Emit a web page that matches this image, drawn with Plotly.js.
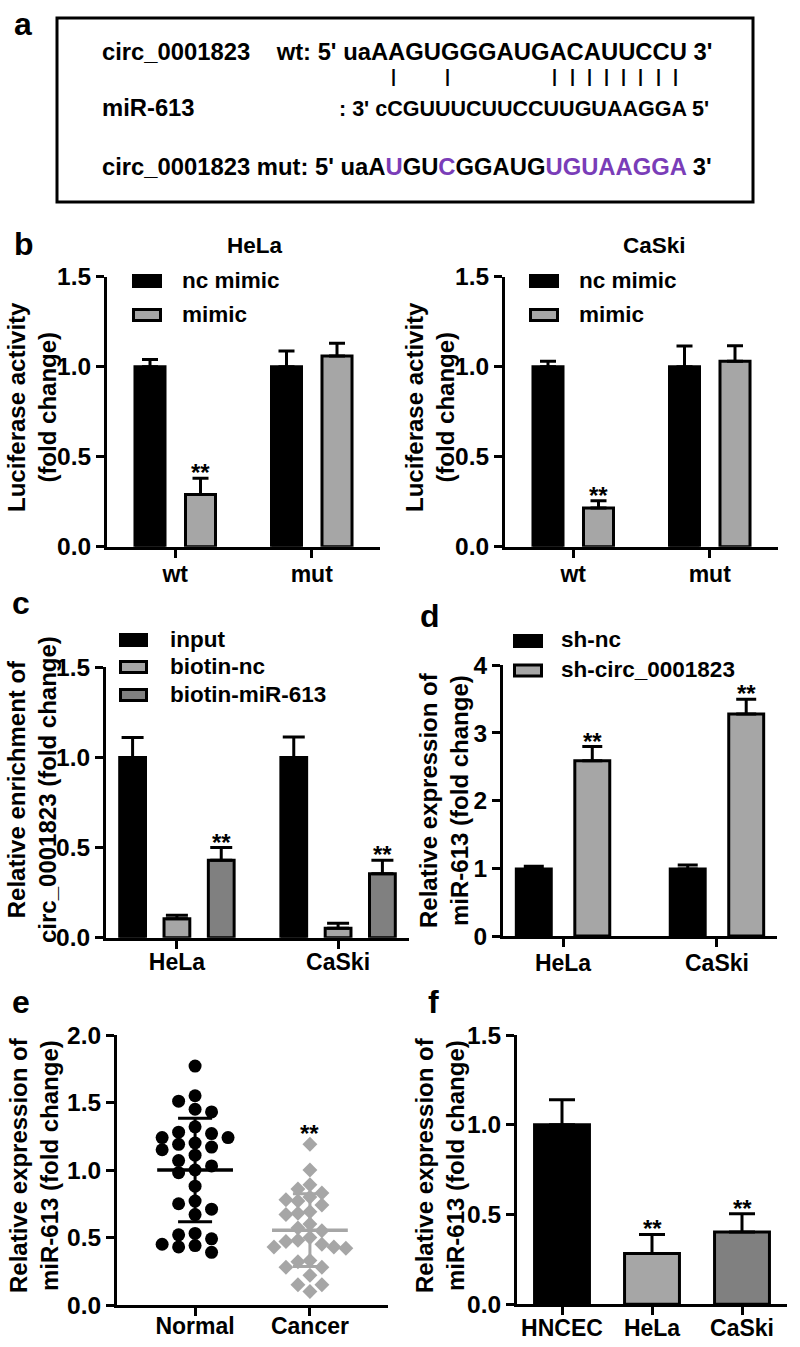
<!DOCTYPE html>
<html><head><meta charset="utf-8">
<script src="https://cdn.plot.ly/plotly-3.0.1.min.js"></script>
<style>html,body{margin:0;padding:0;background:#fff}#chart{width:800px;height:1347px}</style>
</head><body><div id="chart"></div>
<script>
// ---------------- data ----------------
// panel a
const aRowLabels = ['circ_0001823', 'miR-613', 'circ_0001823'];
const aWt  = 'uaAAGUGGGAUGACAUUCCU';
const aMiR = 'cCGUUUCUUCCUUGUAAGGA';
const aMut = 'uaAUGUCGGAUGUGUAAGGA';
// panel b
const bCategories = ['wt', 'mut'];
const bSeries = ['nc mimic', 'mimic'];
const bTitles = ['HeLa', 'CaSki'];
const bHelaNc = [1.00, 1.00];
const bHelaNcErr = [0.04, 0.087];
const bHelaMimic = [0.29, 1.06];
const bHelaMimicErr = [0.09, 0.07];
const bCaskiNc = [1.00, 1.00];
const bCaskiNcErr = [0.03, 0.115];
const bCaskiMimic = [0.215, 1.03];
const bCaskiMimicErr = [0.04, 0.087];
const bHelaSig = ['**', ''];
const bCaskiSig = ['**', ''];
// panel c
const cCategories = ['HeLa', 'CaSki'];
const cSeries = ['input', 'biotin-nc', 'biotin-miR-613'];
const cInput = [1.00, 1.00];
const cInputErr = [0.11, 0.113];
const cBiotinNc = [0.105, 0.053];
const cBiotinNcErr = [0.02, 0.027];
const cBiotinMiR = [0.43, 0.355];
const cBiotinMiRErr = [0.07, 0.075];
const cSig = ['**', '**'];
// panel d
const dCategories = ['HeLa', 'CaSki'];
const dSeries = ['sh-nc', 'sh-circ_0001823'];
const dShNc = [0.99, 0.99];
const dShNcErr = [0.04, 0.06];
const dShCirc = [2.59, 3.28];
const dShCircErr = [0.21, 0.22];
const dSig = ['**', '**'];
// panel e
const eCategories = ['Normal', 'Cancer'];
const eNormal = [1.77,1.55,1.51,1.45,1.43,1.32,1.28,1.27,1.24,1.24,1.20,1.19,1.17,1.15,1.11,1.07,1.03,1.00,0.98,0.88,0.77,0.75,0.71,0.67,0.53,0.52,0.49,0.45,0.44,0.43,0.39];
const eCancer = [1.19,1.00,0.89,0.86,0.83,0.80,0.78,0.77,0.74,0.69,0.68,0.67,0.60,0.57,0.55,0.50,0.48,0.47,0.45,0.43,0.43,0.42,0.33,0.32,0.28,0.28,0.22,0.15,0.15,0.10];
const eSig = ['', '**'];
// panel f
const fCategories = ['HNCEC', 'HeLa', 'CaSki'];
const fValues = [1.00, 0.283, 0.403];
const fErr = [0.14, 0.106, 0.102];
const fSig = ['', '**', '**'];
// y-axis titles
const titleLuc = 'Luciferase activity<br>(fold change)';
const titleEnrich = 'Relative enrichment of<br>circ_0001823 (fold change)';
const titleExpr = 'Relative expression of<br>miR-613 (fold change)';

// ---------------- helpers ----------------
const W = 800, H = 1347;
const X = p => p / W;
const Y = p => 1 - p / H;
const FONT = 'Liberation Sans, Arial, sans-serif';
const BLACK = '#000000', LIGHT = '#a6a6a6', DARK = '#808080', PURPLE = '#7a3db8';
const fnt = (size, color) => ({family: FONT, size: size, color: color || '#000', weight: 'bold'});

const ctx = document.createElement('canvas').getContext('2d');
function tw(str, size) { ctx.font = 'bold ' + size + 'px "Liberation Sans"'; return ctx.measureText(str).width; }

function txt(str, xpx, ypx, size, opts) {
  return Object.assign({text: str, x: X(xpx), y: Y(ypx), xref: 'paper', yref: 'paper', showarrow: false,
    xanchor: 'left', yanchor: 'middle', font: fnt(size)}, opts || {});
}
// baseline -> middle for yanchor middle
const mid = (base, size) => base - 0.3465 * size;

const annotations = [];
const shapes = [];
const traces = [];

// ---------------- panel a ----------------
shapes.push({type: 'rect', xref: 'paper', yref: 'paper', x0: X(57), x1: X(753), y0: Y(18), y1: Y(202),
  line: {color: BLACK, width: 3}, fillcolor: 'rgba(0,0,0,0)'});
annotations.push(txt('a', 12, mid(35, 32), 32));
const S1 = 23.8, S2 = 21.5;
const row1Prefix = aRowLabels[0] + '\u00a0\u00a0\u00a0\u00a0wt: 5\' ';
annotations.push(txt(row1Prefix + aWt + ' 3\'', 100, mid(60, S1), S1));
annotations.push(txt(aRowLabels[1], 100, mid(116, S1), S1));
const row2Text = ': 3\' ' + aMiR + ' 5\'';
annotations.push(txt(row2Text, 711, mid(116, S2), S2, {xanchor: 'right'}));
// row 3 with mutated letters coloured
let mutHtml = '';
for (let i = 0; i < aMut.length; i++) {
  const ch = aMut[i];
  mutHtml += (ch !== aWt[i]) ? '<span style="color:' + PURPLE + '">' + ch + '</span>' : ch;
}
annotations.push(txt(aRowLabels[2] + ' mut: 5\' ' + mutHtml + ' 3\'', 100, mid(175, S1), S1));
// pairing bars under Watson-Crick pairs
const pairs = {AU: 1, UA: 1, GC: 1, CG: 1};
const row1Start = 100 + 2 + tw(row1Prefix, S1);
for (let i = 0; i < aWt.length; i++) {
  const a = aWt[i], b = aMiR[i];
  if (a !== a.toUpperCase() || b !== b.toUpperCase()) continue;
  if (!pairs[a + b]) continue;
  const c1 = row1Start + tw(aWt.slice(0, i), S1) + tw(a, S1) / 2;
  annotations.push(txt('|', c1 - 3, 76, 18, {xanchor: 'center'}));
}

// ---------------- axes ----------------
const axBase = {showline: true, linecolor: BLACK, linewidth: 3, ticks: 'outside', ticklen: 8, tickwidth: 3,
  tickcolor: BLACK, showgrid: false, zeroline: false, fixedrange: true, tickfont: fnt(23)};
function xax(dom, cats, range, anchor, standoff) {
  return Object.assign({}, axBase, {domain: [X(dom[0]), X(dom[1])], range: range, tickmode: 'array',
    tickvals: cats.map((_, i) => i), ticktext: cats, anchor: anchor, ticklabelstandoff: standoff});
}
function yax(dom, range, dtick, fmt, anchor) {
  return Object.assign({}, axBase, {domain: [Y(dom[1]), Y(dom[0])], range: range, tickmode: 'linear',
    tick0: 0, dtick: dtick, tickformat: fmt, anchor: anchor, tickfont: fnt(24.5)});
}

function bars(xa, ya, vals, errs, center, width, color, capw) {
  return {type: 'bar', xaxis: xa, yaxis: ya, x: vals.map((_, i) => i + center), y: vals, width: width,
    marker: {color: color, line: {color: BLACK, width: 3}},
    error_y: {type: 'data', symmetric: false, array: errs, arrayminus: errs.map(() => 0), color: BLACK, thickness: 3, width: capw},
    hoverinfo: 'skip', showlegend: false};
}
function stars(xa, ya, vals, errs, center, sig) {
  sig.forEach((s, i) => {
    if (!s) return;
    annotations.push({text: s, xref: xa, yref: ya, x: i + center, y: vals[i] + errs[i], showarrow: false,
      xanchor: 'center', yanchor: 'bottom', yshift: -10, font: fnt(24)});
  });
}
function legendBox(names, colors, boxX, textX, rowsY, w, h) {
  names.forEach((n, i) => {
    const cy = rowsY[i];
    shapes.push({type: 'rect', xref: 'paper', yref: 'paper', x0: X(boxX + 1.5), x1: X(boxX + w - 1.5),
      y0: Y(cy + h / 2 - 1.5), y1: Y(cy - h / 2 + 1.5), line: {color: BLACK, width: 3}, fillcolor: colors[i]});
    annotations.push(txt(n, textX, cy - 1, 22.5));
  });
}
function ytitle(str, cx, cy) {
  annotations.push(txt(str, cx, cy, 24, {xanchor: 'center', textangle: -90}));
}

const layout = {width: W, height: H, margin: {l: 0, r: 0, t: 0, b: 0}, paper_bgcolor: '#fff', plot_bgcolor: 'rgba(0,0,0,0)',
  barmode: 'overlay', showlegend: false, font: {family: FONT, color: '#000'}, hovermode: false};

// ---------------- panel b ----------------
layout.xaxis = xax([107, 380], bCategories, [-0.5, 1.5], 'y', -3);
layout.yaxis = yax([276.7, 546.7], [0, 1.5], 0.5, '.1f', 'x');
layout.xaxis2 = xax([505, 778], bCategories, [-0.5, 1.5], 'y2', -3);
layout.yaxis2 = yax([276.7, 546.7], [0, 1.5], 0.5, '.1f', 'x2');
traces.push(bars('x', 'y', bHelaNc, bHelaNcErr, -0.185, 0.22, BLACK, 8));
traces.push(bars('x', 'y', bHelaMimic, bHelaMimicErr, 0.185, 0.22, LIGHT, 8));
traces.push(bars('x2', 'y2', bCaskiNc, bCaskiNcErr, -0.185, 0.22, BLACK, 8));
traces.push(bars('x2', 'y2', bCaskiMimic, bCaskiMimicErr, 0.185, 0.22, LIGHT, 8));
stars('x', 'y', bHelaMimic, bHelaMimicErr, 0.185, bHelaSig);
stars('x2', 'y2', bCaskiMimic, bCaskiMimicErr, 0.185, bCaskiSig);
annotations.push(txt('b', 12, mid(255, 32), 32));
annotations.push(txt(bTitles[0], 255, mid(253, 22.5), 22.5, {xanchor: 'center'}));
annotations.push(txt(bTitles[1], 654, mid(253, 22.5), 22.5, {xanchor: 'center'}));
legendBox(bSeries, [BLACK, LIGHT], 132, 180, [281, 315], 30, 14);
legendBox(bSeries, [BLACK, LIGHT], 529, 577, [281, 315], 30, 14);
ytitle(titleLuc, 32, 407);
ytitle(titleLuc, 430, 407);

// ---------------- panel c ----------------
layout.xaxis3 = xax([106, 409], cCategories, [-0.44, 1.44], 'y3', -6);
layout.yaxis3 = yax([667.3, 937.7], [0, 1.5], 0.5, '.1f', 'x3');
traces.push(bars('x3', 'y3', cInput, cInputErr, -0.275, 0.16, BLACK, 11));
traces.push(bars('x3', 'y3', cBiotinNc, cBiotinNcErr, 0, 0.16, LIGHT, 11));
traces.push(bars('x3', 'y3', cBiotinMiR, cBiotinMiRErr, 0.275, 0.16, DARK, 11));
stars('x3', 'y3', cBiotinMiR, cBiotinMiRErr, 0.275, cSig);
annotations.push(txt('c', 10, mid(614, 32), 32));
legendBox(cSeries, [BLACK, LIGHT, DARK], 119, 168, [640, 667, 695], 29, 14);
ytitle(titleEnrich, 32, 790);

// ---------------- panel d ----------------
layout.xaxis4 = xax([503, 777], dCategories, [-0.39, 1.39], 'y4', -4);
layout.yaxis4 = yax([665.3, 936], [0, 4], 1, 'd', 'x4');
traces.push(bars('x4', 'y4', dShNc, dShNcErr, -0.19, 0.227, BLACK, 10));
traces.push(bars('x4', 'y4', dShCirc, dShCircErr, 0.19, 0.227, LIGHT, 10));
stars('x4', 'y4', dShCirc, dShCircErr, 0.19, dSig);
annotations.push(txt('d', 418, mid(627, 32), 32));
legendBox(dSeries, [BLACK, LIGHT], 513, 559, [641, 670.5], 30, 14);
ytitle(titleExpr, 444, 800);

// ---------------- panel e ----------------
layout.xaxis5 = xax([117, 388], eCategories, [-0.68, 1.68], 'y5', -10);
layout.yaxis5 = yax([1035, 1305], [0, 2], 0.5, '.1f', 'x5');
const ePxPerY = 135, ePxPerX = 115;
function beeswarm(vals, diam, step) {
  const order = vals.map((v, i) => i).sort((a, b) => vals[b] - vals[a]);
  const placed = [], off = new Array(vals.length).fill(0);
  for (const i of order) {
    const y = vals[i] * ePxPerY;
    for (let k = 0; k < 60; k++) {
      const n = Math.ceil(k / 2), cand = (k === 0 ? 0 : (k % 2 ? -n : n)) * step;
      if (placed.every(p => Math.hypot(p.x - cand, p.y - y) >= diam)) { off[i] = cand; placed.push({x: cand, y: y}); break; }
    }
  }
  return off.map(o => o / ePxPerX);
}
const meanOf = a => a.reduce((s, v) => s + v, 0) / a.length;
const sdOf = a => { const m = meanOf(a); return Math.sqrt(a.reduce((s, v) => s + (v - m) * (v - m), 0) / (a.length - 1)); };
[[eNormal, BLACK, 'circle', 13, 12, 16.5], [eCancer, LIGHT, 'diamond', 11.5, 11, 12]].forEach((g, gi) => {
  const [vals, color, sym, size, diam, step] = g;
  const offs = beeswarm(vals, diam, step);
  traces.push({type: 'scatter', mode: 'markers', xaxis: 'x5', yaxis: 'y5', x: vals.map((_, i) => gi + offs[i]), y: vals,
    marker: {symbol: sym, size: size, color: color, line: {width: 0}}, hoverinfo: 'skip', showlegend: false, cliponaxis: false});
});
[[eNormal, BLACK], [eCancer, LIGHT]].forEach((g, gi) => {
  const [vals, color] = g;
  const m = meanOf(vals), sd = sdOf(vals);
  traces.push({type: 'scatter', mode: 'lines', xaxis: 'x5', yaxis: 'y5', x: [gi - 0.33, gi + 0.33], y: [m, m],
    line: {color: color, width: 3.5}, hoverinfo: 'skip', showlegend: false});
  traces.push({type: 'scatter', mode: 'markers', xaxis: 'x5', yaxis: 'y5', x: [gi], y: [m],
    marker: {size: 1, opacity: 0}, error_y: {type: 'data', array: [sd], symmetric: true, color: color, thickness: 3, width: 17},
    hoverinfo: 'skip', showlegend: false});
});
[eNormal, eCancer].forEach((vals, gi) => {
  if (!eSig[gi]) return;
  annotations.push({text: eSig[gi], xref: 'x5', yref: 'y5', x: gi, y: Math.max(...vals), showarrow: false,
    xanchor: 'center', yanchor: 'bottom', yshift: -5, font: fnt(24)});
});
annotations.push(txt('e', 10, mid(1013, 32), 32));
ytitle(titleExpr, 34, 1165);

// ---------------- panel f ----------------
layout.xaxis6 = xax([517, 787], fCategories, [-0.5, 2.5], 'y6', -7);
layout.yaxis6 = yax([1035, 1304.3], [0, 1.5], 0.5, '.1f', 'x6');
traces.push(bars('x6', 'y6', fValues, fErr, 0, 0.61, [BLACK, LIGHT, DARK], 13));
stars('x6', 'y6', fValues, fErr, 0, fSig);
annotations.push(txt('f', 426, mid(1013, 32), 32));
ytitle(titleExpr, 440, 1165);

layout.annotations = annotations;
layout.shapes = shapes;
Plotly.newPlot('chart', traces, layout, {staticPlot: true, displayModeBar: false});
</script>
</body></html>
